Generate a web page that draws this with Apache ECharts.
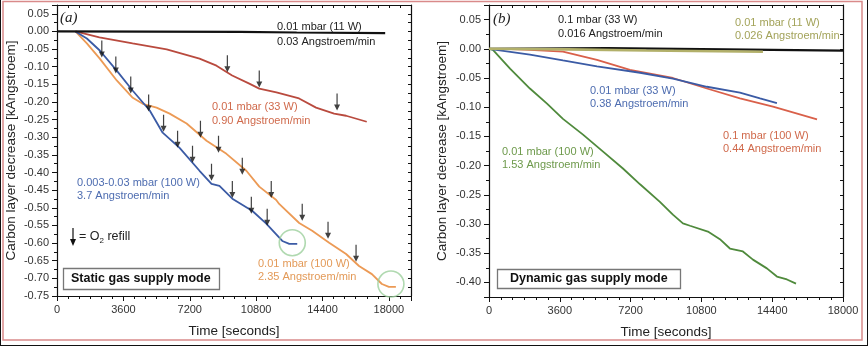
<!DOCTYPE html>
<html><head><meta charset="utf-8">
<script src="https://cdn.jsdelivr.net/npm/echarts@6/dist/echarts.min.js"></script>
<style>html,body{margin:0;padding:0;background:#fff}#c{width:868px;height:346px}</style>
</head><body><div id="c"></div>
<script>
// ---------- Panel (a): static gas supply mode ----------
const a_black  = [[0,0],[9900,-0.001],[13000,-0.003],[17800,-0.005]];
const a_red    = [[1000,0],[2300,-0.017],[4100,-0.034],[5950,-0.051],[7730,-0.077],[8650,-0.097],[9500,-0.125],[10430,-0.148],[10970,-0.162],[11900,-0.173],[13130,-0.190],[14050,-0.216],[15030,-0.233],[15680,-0.239],[16800,-0.256]];
const a_blue   = [[1000,0],[1620,-0.020],[2320,-0.054],[3240,-0.111],[4110,-0.168],[5030,-0.224],[5730,-0.287],[6650,-0.330],[7730,-0.395],[8380,-0.432],[8810,-0.438],[9510,-0.474],[10600,-0.509],[11350,-0.545],[12220,-0.594],[12600,-0.602],[13030,-0.602]];
const a_orange = [[1000,0],[1620,-0.034],[2320,-0.077],[3240,-0.139],[4110,-0.188],[4650,-0.205],[5400,-0.216],[6110,-0.233],[7030,-0.261],[8110,-0.310],[9190,-0.347],[10270,-0.395],[10970,-0.440],[11890,-0.478],[12050,-0.489],[13135,-0.543],[13840,-0.565],[14760,-0.599],[15680,-0.631],[16380,-0.665],[17080,-0.688],[17620,-0.716],[18000,-0.724],[18380,-0.724]];
// O2 refill arrow tips (time, value)
const a_refills = [[2430,-0.074],[3190,-0.119],[4000,-0.176],[4970,-0.227],[5780,-0.284],[6540,-0.330],[7350,-0.372],[8380,-0.423],[9510,-0.472],[10540,-0.517],[11400,-0.551],
                   [7780,-0.301],[8760,-0.344],[10050,-0.406],[11620,-0.472],[13300,-0.537],[14700,-0.588],[16220,-0.653],
                   [9240,-0.116],[10970,-0.159],[15190,-0.224]];
const a_circles = [[12760,-0.599],[18110,-0.716]];

// ---------- Panel (b): dynamic gas supply mode ----------
const b_black  = [[0,0],[6000,0.001],[12000,-0.001],[18000,-0.003]];
const b_olive  = [[0,0],[4000,-0.001],[8000,-0.003],[13930,-0.005]];
const b_blue   = [[0,0],[2080,-0.010],[3760,-0.020],[5490,-0.030],[7680,-0.041],[9350,-0.051],[11080,-0.065],[12760,-0.075],[13780,-0.085],[14640,-0.093]];
const b_red    = [[800,0],[2080,-0.002],[3760,-0.005],[5490,-0.019],[7170,-0.036],[9350,-0.050],[11080,-0.068],[12760,-0.085],[14440,-0.099],[16680,-0.121]];
const b_green  = [[0,0],[200,-0.002],[1070,-0.034],[2080,-0.068],[2950,-0.094],[3760,-0.120],[4780,-0.147],[5800,-0.176],[6810,-0.205],[7680,-0.232],[8690,-0.262],[9350,-0.284],[9860,-0.299],[10220,-0.303],[11130,-0.313],[11740,-0.326],[12250,-0.342],[12910,-0.347],[13420,-0.361],[14130,-0.376],[14640,-0.390],[15150,-0.395],[15610,-0.402]];

const xTickLabels = [0,3600,7200,10800,14400,18000];

const FONT = 'Liberation Sans, Arial, sans-serif';
const chart = echarts.init(document.getElementById('c'), null, {renderer:'canvas'});

function yFmt(v){ const k=v/0.05; return Math.abs(k-Math.round(k))<1e-6 ? (Math.round(v*100)/100).toFixed(2) : ''; }
function xFmt(v){ return xTickLabels.indexOf(Math.round(v))>=0 ? String(Math.round(v)) : ''; }

const axLine = {show:true, onZero:false, lineStyle:{color:'#111', width:1.2}};
const tickStyle = {color:'#111', width:1};

function xAxes(g, max){
  return [
    {type:'value', gridIndex:g, position:'bottom', min:0, max:max, interval:600,
     axisLine:axLine, axisTick:{show:true, inside:false, length:3, lineStyle:tickStyle},
     axisLabel:{show:true, formatter:xFmt, margin:8, color:'#333', fontSize:11, fontFamily:FONT},
     splitLine:{show:false},
     name:'Time [seconds]', nameLocation:'middle', nameGap:28,
     nameTextStyle:{color:'#222', fontSize:13.5, fontFamily:FONT}},
    {type:'value', gridIndex:g, position:'bottom', min:0, max:max, interval:3600,
     axisLine:{show:false, onZero:false}, axisTick:{show:true, inside:false, length:5, lineStyle:tickStyle},
     axisLabel:{show:false}, splitLine:{show:false}},
    {type:'value', gridIndex:g, position:'top', min:0, max:max, interval:600,
     axisLine:axLine, axisTick:{show:true, inside:true, length:3, lineStyle:tickStyle},
     axisLabel:{show:false}, splitLine:{show:false}}
  ];
}
function yAxes(g, min, max, major, gap){
  const m = {type:'value', gridIndex:g, position:'left', min:min, max:max,
     axisLine:{show:false, onZero:false}, axisTick:{show:true, inside:false, length:5, lineStyle:tickStyle},
     axisLabel:{show:false}, splitLine:{show:false}};
  if (major) m.interval = major; else m.splitNumber = 10;
  return [
    {type:'value', gridIndex:g, position:'left', min:min, max:max, interval:0.025,
     axisLine:axLine, axisTick:{show:true, inside:false, length:3, lineStyle:tickStyle},
     axisLabel:{show:true, formatter:yFmt, margin:8, color:'#333', fontSize:11, fontFamily:FONT},
     splitLine:{show:false},
     name:'Carbon layer decrease [kAngstroem]', nameLocation:'middle', nameGap:gap,
     nameTextStyle:{color:'#222', fontSize:13.5, fontFamily:FONT}},
    m,
    {type:'value', gridIndex:g, position:'right', min:min, max:max, interval:0.025,
     axisLine:axLine, axisTick:{show:true, inside:true, length:3, lineStyle:tickStyle},
     axisLabel:{show:false}, splitLine:{show:false}}
  ];
}

function line(data, color, xi, w){
  return {type:'line', data:data, xAxisIndex:xi, yAxisIndex:xi, showSymbol:false, symbol:'none',
          lineStyle:{color:color, width:w||1.8}, itemStyle:{color:color}, animation:false, z:3};
}

const arrowPath = 'path://M2.4,0 L3.6,0 L3.6,11 L6,11 L3,17 L0,11 L2.4,11 Z';

function txt(x, y, t, color, extra){
  return Object.assign({type:'text', x:x, y:y, z:10, style:{text:t, fill:color, fontSize:11, fontFamily:FONT, verticalAlign:'middle', align:'left'}}, extra||{});
}

const C = {
  red:'#b94a3e', redT:'#d06a4c', blue:'#3b5ba5', blueT:'#4d6cb0', orange:'#ec9a55', orangeT:'#e39a58',
  green:'#4f8a3c', greenT:'#6e9a4c', olive:'#b2b06a', oliveT:'#a3a35a', red2:'#d9604a'
};

const option = {
  backgroundColor:'#fff',
  animation:false,
  grid:[
    {left:57, top:5, width:354, height:291},
    {left:489, top:5, width:354, height:292}
  ],
  xAxis: xAxes(0, 19200).concat(xAxes(1, 18000)),
  yAxis: yAxes(0, -0.75, 0.075, 0.05, 39).concat(yAxes(1, -0.425, 0.075, null, 40)),
  series:[
    line(a_red, C.red, 0),
    line(a_orange, C.orange, 0),
    line(a_blue, C.blue, 0),
    line(a_black, '#111', 0, 2.2),
    {type:'scatter', data:a_refills, xAxisIndex:0, yAxisIndex:0, symbol:arrowPath, symbolSize:[6,17], symbolOffset:[0,-8.5],
     itemStyle:{color:'#111'}, z:5, animation:false},
    {type:'scatter', data:a_circles, xAxisIndex:0, yAxisIndex:0, symbol:'circle', symbolSize:26,
     itemStyle:{color:'rgba(0,0,0,0)', borderColor:'#9cd09c', borderWidth:1.6}, z:6, animation:false},
    line(b_green, C.green, 3),
    line(b_red, C.red2, 3),
    line(b_blue, C.blue, 3),
    line(b_black, '#111', 3, 2.2),
    line(b_olive, C.olive, 3, 2.6)
  ],
  graphic:[
    // frame
    {type:'rect', shape:{x:3, y:1.5, width:859, height:338.5}, style:{fill:'none', stroke:'#d98a8a', lineWidth:1.5}, z:1},
    {type:'line', shape:{x1:0.5,y1:0,x2:0.5,y2:346}, style:{stroke:'#111', lineWidth:1}},
    {type:'line', shape:{x1:0,y1:345.5,x2:868,y2:345.5}, style:{stroke:'#111', lineWidth:1.2}},
    {type:'line', shape:{x1:867.5,y1:0,x2:867.5,y2:346}, style:{stroke:'#111', lineWidth:1}},
    // panel a texts
    txt(60, 18, '(a)', '#222', {style:{text:'(a)', fill:'#222', fontSize:15, fontStyle:'italic', fontFamily:'Liberation Serif, DejaVu Serif, serif', verticalAlign:'middle'}}),
    txt(277, 27, '0.01 mbar (11 W)', '#222'),
    txt(277, 42, '0.03 Angstroem/min', '#222'),
    txt(212, 107, '0.01 mbar (33 W)', C.redT),
    txt(212, 121, '0.90 Angstroem/min', C.redT),
    txt(77, 183, '0.003-0.03 mbar (100 W)', C.blueT),
    txt(77, 196, '3.7 Angstroem/min', C.blueT),
    txt(258, 264, '0.01 mbar (100 W)', C.orangeT),
    txt(258, 277, '2.35 Angstroem/min', C.orangeT),
    {type:'polygon', shape:{points:[[72.4,228],[73.6,228],[73.6,239],[76,239],[73,246],[70,239],[72.4,239]]}, style:{fill:'#111'}, z:10},
    {type:'text', x:79, y:237, z:10, style:{text:'{a|= O}{s|2}{a| refill}', fill:'#222', verticalAlign:'middle',
      rich:{a:{fontSize:12.5, fontFamily:FONT, fill:'#222', lineHeight:16}, s:{fontSize:8, fontFamily:FONT, fill:'#222', lineHeight:16, verticalAlign:'bottom'}}}},
    {type:'rect', shape:{x:63.5, y:268.5, width:156, height:21}, style:{fill:'#fff', stroke:'#777', lineWidth:1.3}, z:9},
    txt(71, 279, 'Static gas supply mode', '#111', {style:{text:'Static gas supply mode', fill:'#111', fontSize:12.5, fontWeight:'bold', fontFamily:FONT, verticalAlign:'middle'}}),
    // panel b texts
    txt(493, 19, '(b)', '#222', {style:{text:'(b)', fill:'#222', fontSize:15, fontStyle:'italic', fontFamily:'Liberation Serif, DejaVu Serif, serif', verticalAlign:'middle'}}),
    txt(558, 20, '0.1 mbar (33 W)', '#222'),
    txt(558, 34, '0.016 Angstroem/min', '#222'),
    txt(735, 23, '0.01 mbar (11 W)', C.oliveT),
    txt(735, 36, '0.026 Angstroem/min', C.oliveT),
    txt(590, 91, '0.01 mbar (33 W)', C.blueT),
    txt(590, 104, '0.38 Angstroem/min', C.blueT),
    txt(723, 136, '0.1 mbar (100 W)', C.redT),
    txt(723, 149, '0.44 Angstroem/min', C.redT),
    txt(502, 152, '0.01 mbar (100 W)', C.greenT),
    txt(502, 165, '1.53 Angstroem/min', C.greenT),
    {type:'rect', shape:{x:497.5, y:269.5, width:183, height:19}, style:{fill:'#fff', stroke:'#777', lineWidth:1.3}, z:9},
    txt(510, 279, 'Dynamic gas supply mode', '#111', {style:{text:'Dynamic gas supply mode', fill:'#111', fontSize:12.5, fontWeight:'bold', fontFamily:FONT, verticalAlign:'middle'}})
  ]
};
chart.setOption(option);
</script>
</body></html>
